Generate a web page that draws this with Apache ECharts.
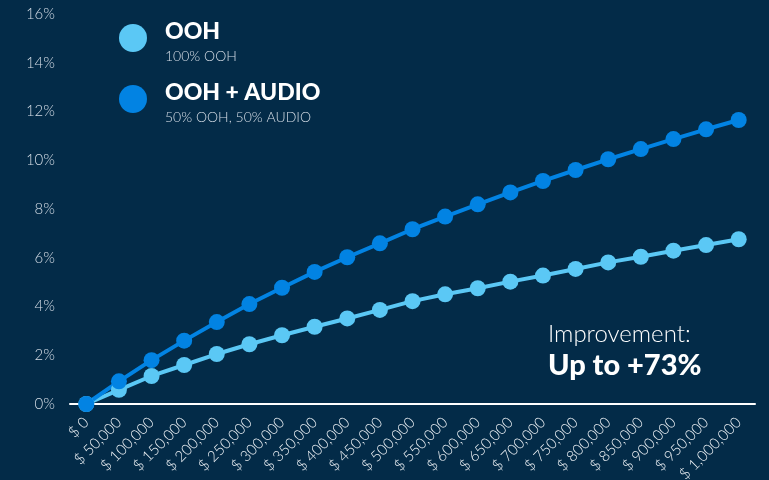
<!DOCTYPE html>
<html>
<head>
<meta charset="utf-8">
<script src="https://cdn.jsdelivr.net/npm/echarts@6/dist/echarts.min.js"></script>
<style>
  html, body { margin: 0; padding: 0; background: #032b48; }
  #chart { width: 769px; height: 480px; }
</style>
</head>
<body>
<div id="chart"></div>
<script>
// Spend levels along the x axis
const spendLabels = [
  '$ 0', '$ 50,000', '$ 100,000', '$ 150,000', '$ 200,000', '$ 250,000', '$ 300,000',
  '$ 350,000', '$ 400,000', '$ 450,000', '$ 500,000', '$ 550,000', '$ 600,000',
  '$ 650,000', '$ 700,000', '$ 750,000', '$ 800,000', '$ 850,000', '$ 900,000',
  '$ 950,000', '$ 1,000,000'
];

// Reach uplift (%) for a pure OOH plan
const oohValues = [
  0, 0.58, 1.15, 1.6, 2.05, 2.45, 2.82, 3.17, 3.51, 3.86, 4.22,
  4.5, 4.75, 5.02, 5.27, 5.54, 5.81, 6.04, 6.29, 6.52, 6.76
];

// Reach uplift (%) for a 50/50 OOH + audio plan
const oohAudioValues = [
  0, 0.93, 1.8, 2.6, 3.36, 4.1, 4.77, 5.42, 6.02, 6.59, 7.17,
  7.69, 8.19, 8.68, 9.15, 9.6, 10.04, 10.46, 10.87, 11.27, 11.65
];

// Y axis ticks
const yTicks = { min: 0, max: 16, interval: 2 };

const seriesInfo = [
  { name: 'OOH', note: '100% OOH', color: '#5bc8f5', data: oohValues },
  { name: 'OOH + AUDIO', note: '50% OOH, 50% AUDIO', color: '#0283e3', data: oohAudioValues }
];

const FONT = 'Lato, "Open Sans", sans-serif';
const chart = echarts.init(document.getElementById('chart'));

// Hand-built key: a dot, a bold series name and a small mix description
const keyItems = [];
seriesInfo.forEach((s, i) => {
  const cy = 38 + i * 61;
  keyItems.push(
    { type: 'circle', shape: { cx: 133, cy: cy, r: 14 }, style: { fill: s.color } },
    {
      type: 'text', x: 165, y: cy - 6,
      style: { text: s.name, font: '900 23px ' + FONT, fill: '#ffffff', textVerticalAlign: 'middle' }
    },
    {
      type: 'text', x: 165, y: cy + 18,
      style: { text: s.note, font: '300 14px ' + FONT, fill: '#d5dde6', textVerticalAlign: 'middle' }
    }
  );
});

chart.setOption({
  backgroundColor: '#032b48',
  animation: false,
  textStyle: { fontFamily: FONT },
  grid: { left: 70, right: 14, top: 14, bottom: 76, containLabel: false, outerBoundsMode: 'none' },
  xAxis: {
    type: 'category',
    data: spendLabels,
    boundaryGap: true,
    axisLine: { lineStyle: { color: '#ffffff', width: 2 } },
    axisTick: { show: false },
    axisLabel: {
      interval: 0,
      rotate: 45,
      margin: 16,
      color: '#eef2f6',
      fontSize: 15,
      fontWeight: 300,
      fontFamily: FONT
    }
  },
  yAxis: {
    type: 'value',
    min: yTicks.min,
    max: yTicks.max,
    interval: yTicks.interval,
    axisLine: { show: false },
    axisTick: { show: false },
    splitLine: { show: false },
    axisLabel: {
      formatter: '{value}%',
      margin: 15,
      color: '#d5dde6',
      fontSize: 15,
      fontWeight: 300,
      fontFamily: FONT
    }
  },
  series: seriesInfo.map(s => ({
    name: s.name,
    type: 'line',
    data: s.data,
    color: s.color,
    symbol: 'circle',
    symbolSize: 16,
    lineStyle: { width: 4, color: s.color },
    itemStyle: { color: s.color }
  })),
  graphic: keyItems.concat([
    {
      type: 'text',
      left: 548,
      top: 322,
      style: {
        text: 'Improvement:',
        font: '300 24px ' + FONT,
        fill: '#ffffff'
      }
    },
    {
      type: 'text',
      left: 548,
      top: 351,
      style: {
        text: 'Up to +73%',
        font: '900 29px ' + FONT,
        fill: '#ffffff'
      }
    }
  ])
});
</script>
</body>
</html>
